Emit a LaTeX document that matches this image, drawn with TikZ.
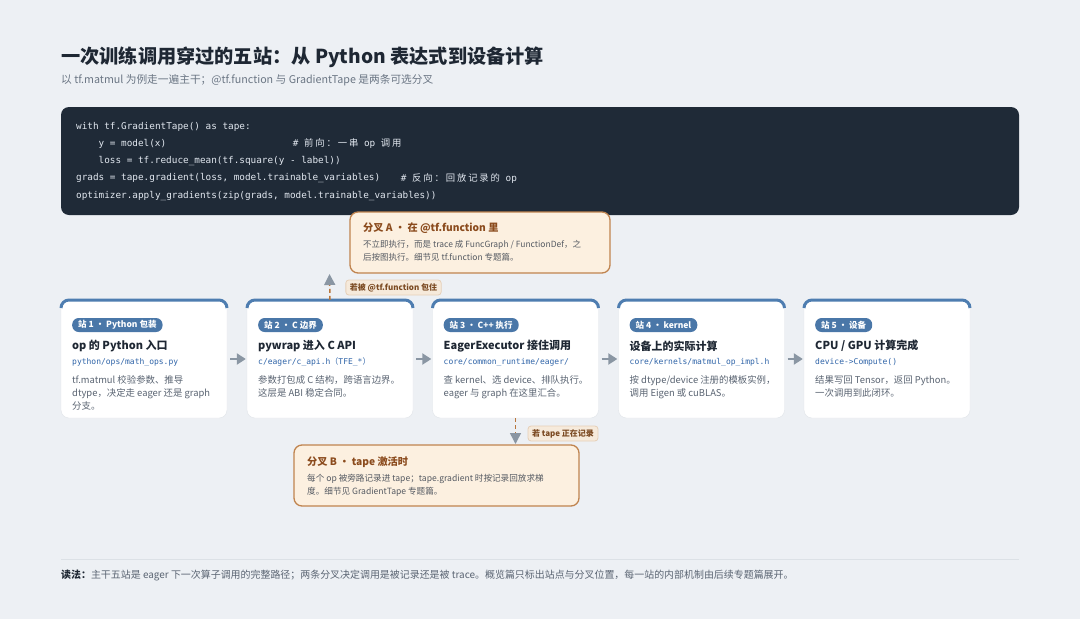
\documentclass[tikz,border=0pt]{standalone}
\usepackage{fontspec}
\setmainfont{Noto Sans CJK SC}
\setmonofont{DejaVu Sans Mono}
\newfontfamily\cjk{Noto Sans CJK SC}
\newfontfamily\cjkcode{Noto Sans CJK SC}[LetterSpace=20]
\usetikzlibrary{arrows.meta}
\definecolor{bgc}{HTML}{EDF0F4}
\definecolor{titlec}{HTML}{1E2733}
\definecolor{subc}{HTML}{6B7684}
\definecolor{codebg}{HTML}{1F2A37}
\definecolor{codetx}{HTML}{E2E8F0}
\definecolor{topblue}{HTML}{4E7DB0}
\definecolor{badgec}{HTML}{4A77A8}
\definecolor{pathc}{HTML}{2F64A8}
\definecolor{descc}{HTML}{5A6472}
\definecolor{arrowc}{HTML}{8A96A3}
\definecolor{brfill}{HTML}{FCF0E0}
\definecolor{brdraw}{HTML}{C0844F}
\definecolor{brtitle}{HTML}{8B4B1D}
\definecolor{brbody}{HTML}{555A62}
\definecolor{tagfill}{HTML}{F6EADB}
\definecolor{tagdraw}{HTML}{E6D0B8}
\definecolor{tagtext}{HTML}{7B4A22}
\definecolor{dashc}{HTML}{B8763C}
\definecolor{linec}{HTML}{DCE1E6}
\definecolor{boxline}{HTML}{E0E4E9}
\tikzset{
  stbox/.style={draw=boxline, fill=white, rounded corners=8pt, minimum width=166pt, minimum height=118pt, inner sep=0pt},
  sttop/.style={draw=topblue, line width=3pt},
  badge/.style={fill=badgec, text=white, rounded corners=6.5pt, inner xsep=6pt, inner ysep=0pt, minimum height=14pt, font=\bfseries\fontsize{8.5}{10}\selectfont, anchor=west},
  sttitle/.style={anchor=west, inner sep=0pt, text=titlec, font=\bfseries\fontsize{11}{13}\selectfont},
  stpath/.style={anchor=west, inner sep=0pt, text=pathc, font=\ttfamily\fontsize{8}{10}\selectfont},
  stdesc/.style={anchor=north west, inner sep=0pt, align=left, text=descc, font=\fontsize{9.4}{13}\selectfont},
  flow/.style={draw=arrowc, line width=2.5pt, -{Triangle[length=9pt,width=11pt]}, shorten <=3pt, shorten >=1pt},
  branchbox/.style={draw=brdraw, fill=brfill, line width=1.3pt, rounded corners=8pt, inner sep=0pt},
  brtitle/.style={anchor=west, inner sep=0pt, text=brtitle, font=\bfseries\fontsize{10.2}{13}\selectfont},
  brbody/.style={anchor=north west, inner sep=0pt, align=left, text=brbody},
  branchflow/.style={draw=dashc, line width=1.5pt, dash pattern=on 4pt off 3pt, -{Triangle[length=11pt,width=11pt,color=arrowc,fill=arrowc]}},
  tagbox/.style={fill=tagfill, draw=tagdraw, line width=0.8pt, rounded corners=3pt, inner xsep=4pt, inner ysep=0pt, minimum height=15pt, text=tagtext, font=\bfseries\fontsize{8}{10}\selectfont},
  codeline/.style={anchor=west, inner sep=0pt, text=codetx, font=\ttfamily\fontsize{9.35}{11}\selectfont},
}
\newcommand\stationbox[6]{%
  \node[stbox] (#1) at (#2+83,359) {};
  \draw[sttop] (#2,308) arc[start angle=180,end angle=270,radius=8] -- (#2+158,300) arc[start angle=270,end angle=360,radius=8];
  \node[badge] (#1b) at (#2+11,325) {#3};
  \node[sttitle] (#1t) at (#2+11,346) {#4};
  \node[stpath] (#1p) at (#2+11,362) {#5};
  \node[stdesc] (#1d) at (#2+11,375.5) {#6};
}
\begin{document}
\begin{tikzpicture}[x=1pt,y=-1pt]
\fill[bgc] (0,0) rectangle (1080,619);
\useasboundingbox (0,0) rectangle (1080,619);

% title
\node[anchor=west, inner sep=0pt, text=titlec, font=\bfseries\fontsize{19.2}{23}\selectfont] (title) at (61,57) {一次训练调用穿过的五站：从 Python 表达式到设备计算};
\node[anchor=west, inner sep=0pt, text=subc, font=\fontsize{10.7}{13}\selectfont] (subtitle) at (61,80) {以 tf.matmul 为例走一遍主干；@tf.function 与 GradientTape 是两条可选分叉};

% code block
\node[fill=codebg, rounded corners=8pt, minimum width=958pt, minimum height=108pt, inner sep=0pt] (code) at (540,161) {};
\node[codeline] (c1) at (76,126.7) {with tf.GradientTape() as tape:};
\node[codeline] (c2) at (98.5,144) {y = model(x)};
\node[codeline] (c2c) at (292.7,144) {\# {\cjkcode 前向：一串} op {\cjkcode 调用}};
\node[codeline] (c3) at (98.5,160.8) {loss = tf.reduce\_mean(tf.square(y - label))};
\node[codeline] (c4) at (76,178.3) {grads = tape.gradient(loss, model.trainable\_variables)};
\node[codeline] (c4c) at (400.7,178.3) {\# {\cjkcode 反向：回放记录的} op};
\node[codeline] (c5) at (76,195.7) {optimizer.apply\_gradients(zip(grads, model.trainable\_variables))};

% stations
\stationbox{s1}{61}{站 1 · Python 包装}{op 的 Python 入口}{python/ops/math\_ops.py}{tf.matmul 校验参数、推导\\dtype，决定走 eager 还是 graph\\分支。}
\stationbox{s2}{247}{站 2 · C 边界}{pywrap 进入 C API}{c/eager/c\_api.h{\cjk （}TFE\_*{\cjk ）}}{参数打包成 C 结构，跨语言边界。\\这层是 ABI 稳定合同。}
\stationbox{s3}{432.5}{站 3 · C++ 执行}{EagerExecutor 接住调用}{core/common\_runtime/eager/}{查 kernel、选 device、排队执行。\\eager 与 graph 在这里汇合。}
\stationbox{s4}{618.5}{站 4 · kernel}{设备上的实际计算}{core/kernels/matmul\_op\_impl.h}{按 dtype/device 注册的模板实例，\\调用 Eigen 或 cuBLAS。}
\stationbox{s5}{804}{站 5 · 设备}{CPU / GPU 计算完成}{device->Compute()}{结果写回 Tensor，返回 Python。\\一次调用到此闭环。}

\draw[flow] (s1) -- (s2);
\draw[flow] (s2) -- (s3);
\draw[flow] (s3) -- (s4);
\draw[flow] (s4) -- (s5);

% branch A
\node[branchbox, minimum width=260pt, minimum height=61pt] (bA) at (480,242.5) {};
\node[brtitle] (bAt) at (363,228) {分叉 A · 在 @tf.function 里};
\node[brbody, font=\fontsize{8.5}{13}\selectfont] (bAb) at (363,239.7) {不立即执行，而是 trace 成 FuncGraph / FunctionDef，之\\后按图执行。细节见 tf.function 专题篇。};
\coordinate (aTip) at (329.5,274);
\draw[branchflow] (s2.north) -- (aTip);
\node[tagbox] (tA) at (393.5,287.5) {若被 @tf.function 包住};

% branch B
\node[branchbox, minimum width=285pt, minimum height=61pt] (bB) at (436.5,475.5) {};
\node[brtitle] (bBt) at (307,462) {分叉 B · tape 激活时};
\node[brbody, font=\fontsize{8.6}{13}\selectfont] (bBb) at (307,473.6) {每个 op 被旁路记录进 tape；tape.gradient 时按记录回放求梯\\度。细节见 GradientTape 专题篇。};
\coordinate (bTip) at (515.5,444);
\draw[branchflow] (s3.south) -- (bTip);
\node[tagbox] (tB) at (563,433.5) {若 tape 正在记录};

% footer
\draw[linec, line width=0.8pt] (61,559) -- (1019,559);
\node[anchor=west, inner sep=0pt, text=descc, font=\fontsize{9.95}{12}\selectfont] (foot) at (61,575) {{\bfseries\color{titlec}读法：}主干五站是 eager 下一次算子调用的完整路径；两条分叉决定调用是被记录还是被 trace。概览篇只标出站点与分叉位置，每一站的内部机制由后续专题篇展开。};
\end{tikzpicture}
\end{document}
